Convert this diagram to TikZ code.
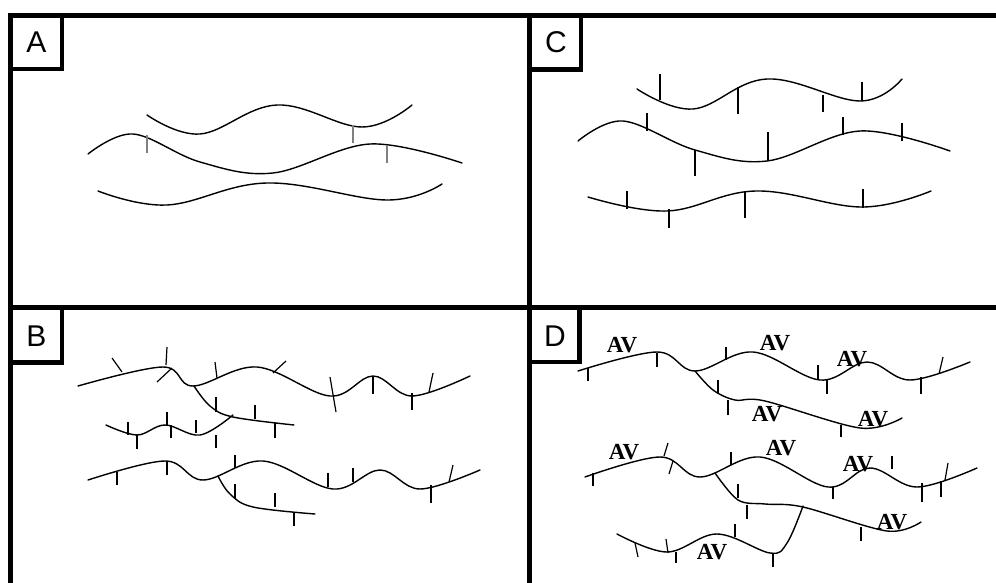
\documentclass[tikz,border=0pt]{standalone}
\usepackage{fontspec}
\setmainfont{Liberation Serif}
\newfontfamily\panelfont{Liberation Sans}
\begin{document}
\begin{tikzpicture}[x=1pt,y=-1pt,
  frame/.style={line width=4.6pt},
  tagbox/.style={line width=4.6pt},
  tagtext/.style={font=\panelfont\fontsize{30}{30}\selectfont, inner sep=0pt},
  fault/.style={line width=1.4pt, line cap=round, line join=round},
  tick/.style={line width=1.2pt},
  greytick/.style={line width=1.3pt, draw=black!50},
  av/.style={font=\bfseries\fontsize{23}{23}\selectfont, inner sep=0pt}]
\useasboundingbox (0,0) rectangle (996,583);

% ---------- frame ----------
\draw[frame] (8,15.5) -- (996,15.5);
\draw[frame] (10.5,13) -- (10.5,583);
\draw[frame] (529.5,15.5) -- (529.5,583);
\draw[frame] (10.5,307.5) -- (996,307.5);

% ---------- panel tags ----------
\draw[tagbox] (10.5,15.5) rectangle (62,69);
\node[tagtext] (tagA) at (36.5,42.5) {A};
\draw[tagbox] (529.5,15.5) rectangle (581,69.5);
\node[tagtext] (tagC) at (556,42.5) {C};
\draw[tagbox] (10.5,307.5) rectangle (62,362.5);
\node[tagtext] (tagB) at (36.5,336) {B};
\draw[tagbox] (529.5,307.5) rectangle (579.5,362);
\node[tagtext] (tagD) at (555,336) {D};

% ---------- panel A ----------
\draw[fault] plot[smooth, tension=0.65] coordinates {(147,115) (200,134) (277,105) (362,127) (412,105)};
\draw[fault] plot[smooth, tension=0.6] coordinates {(88,154) (133,134) (200,162) (273,173) (370,144) (462,163)};
\draw[fault] plot[smooth, tension=0.65] coordinates {(98,191) (167,205) (267,183) (387,200) (442,184)};
\draw[greytick] (147,135) -- (147,153);
\draw[greytick] (353,125) -- (353,143);
\draw[greytick] (387,145) -- (387,163);

% ---------- panel C ----------
\draw[fault] plot[smooth, tension=0.65] coordinates {(637,89) (693,109) (767,79) (860,101) (902,79)};
\draw[fault] plot[smooth, tension=0.6] coordinates {(578,141) (623,121) (695,150) (767,161) (860,131) (950,151)};
\draw[fault] plot[smooth, tension=0.65] coordinates {(588,197) (667,211) (756,191) (862,207) (931,191)};
\draw[tick] (660,74) -- (660,100);
\draw[tick] (738,87) -- (738,114);
\draw[tick] (823,95) -- (823,112);
\draw[tick] (862,82) -- (862,101);
\draw[tick] (647,113) -- (647,131);
\draw[tick] (695,150) -- (695,176);
\draw[tick] (768,132) -- (768,161);
\draw[tick] (843,117) -- (843,135);
\draw[tick] (902,123) -- (902,141);
\draw[tick] (627,191) -- (627,209);
\draw[tick] (669,209) -- (669,228);
\draw[tick] (745,192) -- (745,218);
\draw[tick] (863,189) -- (863,208);

% ---------- panel B ----------
\draw[fault] plot[smooth, tension=0.6] coordinates {(78,386) (163,367) (193,386) (257,367) (330,396) (373,376) (412,396) (470,376)};
\draw[fault] plot[smooth, tension=0.6] coordinates {(194,386) (210,406) (233,417) (294,425)};
\draw[fault] plot[smooth, tension=0.6] coordinates {(106,425) (137,435) (165,425) (200,435) (233,415)};
\draw[fault] plot[smooth, tension=0.6] coordinates {(88,480) (165,461) (203,480) (263,461) (333,489) (380,470) (420,489) (480,470)};
\draw[fault] plot[smooth, tension=0.6] coordinates {(218,476) (230,494) (253,507) (315,514)};
% ticks on the upper fault
\draw[tick] (112,358) -- (122,372);
\draw[tick] (167,347) -- (166,365);
\draw[tick] (157,382) -- (172,368);
\draw[tick] (217,378) -- (215,362);
\draw[tick] (273,373) -- (286,361);
\draw[tick] (330,377) -- (336,412);
\draw[tick] (373,376) -- (373,394);
\draw[tick] (412,393) -- (412,410);
\draw[tick] (429,392) -- (433,373);
\draw[tick] (216,397) -- (216,412);
\draw[tick] (255,405) -- (255,419);
\draw[tick] (275,423) -- (275,438);
% ticks on the small middle fault
\draw[tick] (128,422) -- (128,435);
\draw[tick] (137,435) -- (137,449);
\draw[tick] (167,412) -- (167,425);
\draw[tick] (171,425) -- (171,438);
\draw[tick] (196,420) -- (196,433);
\draw[tick] (216,435) -- (216,448);
% ticks on the lower fault
\draw[tick] (117,472) -- (117,485);
\draw[tick] (167,461) -- (167,475);
\draw[tick] (235,455) -- (235,468);
\draw[tick] (328,473) -- (328,487);
\draw[tick] (353,468) -- (353,482);
\draw[tick] (431,485) -- (431,503);
\draw[tick] (453,465) -- (449,482);
\draw[tick] (235,484) -- (235,499);
\draw[tick] (275,493) -- (275,507);
\draw[tick] (294,513) -- (294,526);

% ---------- panel D ----------
\draw[fault] plot[smooth, tension=0.6] coordinates {(578,371) (657,352) (695,371) (753,352) (820,380) (867,362) (910,380) (970,362)};
\draw[fault] plot[smooth, tension=0.55] coordinates {(695,371) (713,390) (735,400) (765,401) (860,428) (902,418)};
\draw[fault] plot[smooth, tension=0.6] coordinates {(585,477) (660,457) (700,477) (760,457) (828,487) (870,468) (917,487) (977,468)};
\draw[fault] plot[smooth, tension=0.55] coordinates {(715,473) (738,500) (765,504) (803,507) (887,531) (921,522)};
\draw[fault] plot[smooth, tension=0.6] coordinates {(617,534) (667,552) (717,534) (770,553) (787,543) (803,506)};
% ticks, upper group
\draw[tick] (588,368) -- (588,381);
\draw[tick] (657,353) -- (657,367);
\draw[tick] (726,347) -- (726,360);
\draw[tick] (818,365) -- (818,380);
\draw[tick] (827,380) -- (827,394);
\draw[tick] (921,377) -- (921,394);
\draw[tick] (943,357) -- (939,374);
\draw[tick] (718,380) -- (718,394);
\draw[tick] (728,400) -- (728,415);
\draw[tick] (841,425) -- (841,437);
% ticks, lower group
\draw[tick] (593,473) -- (593,486);
\draw[tick] (668,443) -- (664,456);
\draw[tick] (673,461) -- (669,474);
\draw[tick] (731,452) -- (731,465);
\draw[tick] (833,487) -- (833,499);
\draw[tick] (892,456) -- (892,469);
\draw[tick] (922,483) -- (922,502);
\draw[tick] (941,481) -- (941,497);
\draw[tick] (948,463) -- (945,480);
\draw[tick] (738,484) -- (738,498);
\draw[tick] (747,505) -- (747,519);
\draw[tick] (861,527) -- (861,541);
\draw[tick] (635,543) -- (638,557);
\draw[tick] (666,539) -- (668,553);
\draw[tick] (676,552) -- (676,563);
\draw[tick] (735,524) -- (735,537);
\draw[tick] (773,553) -- (773,567);
% AV labels
\node[av] (av1) at (622,345) {AV};
\node[av] (av2) at (775,343) {AV};
\node[av] (av3) at (852,359) {AV};
\node[av] (av4) at (767,414) {AV};
\node[av] (av5) at (873,419) {AV};
\node[av] (av6) at (624,452) {AV};
\node[av] (av7) at (781,448) {AV};
\node[av] (av8) at (858,464) {AV};
\node[av] (av9) at (892,522) {AV};
\node[av] (av10) at (712,552) {AV};
\end{tikzpicture}
\end{document}
